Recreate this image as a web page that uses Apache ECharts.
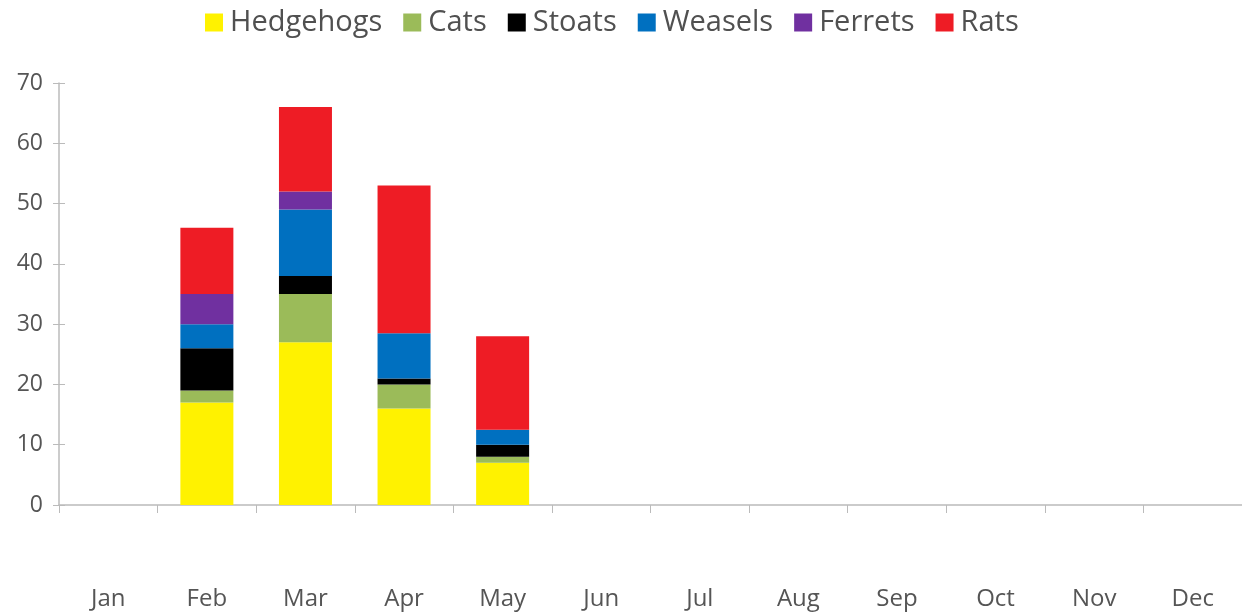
<!DOCTYPE html>
<html>
<head>
<meta charset="utf-8">
<script src="https://cdn.jsdelivr.net/npm/echarts@6/dist/echarts.min.js"></script>
<style>html,body{margin:0;padding:0;background:#fff}#c{width:1242px;height:613px}</style>
</head>
<body>
<div id="c"></div>
<script>
const months = ['Jan','Feb','Mar','Apr','May','Jun','Jul','Aug','Sep','Oct','Nov','Dec'];
const hedgehogs = [null, 17, 27, 16, 7, null, null, null, null, null, null, null];
const cats      = [null, 2, 8, 4, 1, null, null, null, null, null, null, null];
const stoats    = [null, 7, 3, 1, 2, null, null, null, null, null, null, null];
const weasels   = [null, 4, 11, 7.5, 2.5, null, null, null, null, null, null, null];
const ferrets   = [null, 5, 3, 0, 0, null, null, null, null, null, null, null];
const rats      = [null, 11, 14, 24.5, 15.5, null, null, null, null, null, null, null];
const yTicks = [0, 10, 20, 30, 40, 50, 60, 70];

const seriesDefs = [
  ['Hedgehogs', hedgehogs, '#FFF200'],
  ['Cats', cats, '#9BBB59'],
  ['Stoats', stoats, '#000000'],
  ['Weasels', weasels, '#0070C0'],
  ['Ferrets', ferrets, '#7030A0'],
  ['Rats', rats, '#EE1C25']
];
const FONT = 'Open Sans';
const chart = echarts.init(document.getElementById('c'), null, {renderer: 'canvas'});
const yBase = {
  type: 'value', min: yTicks[0], max: yTicks[yTicks.length-1], interval: 10,
  splitLine: {show: false}
};
chart.setOption({
  animation: false,
  textStyle: {fontFamily: FONT},
  legend: {
    top: 3, left: 200,
    itemWidth: 18, itemHeight: 18, itemGap: 21,
    icon: 'rect',
    textStyle: {fontFamily: FONT, fontSize: 29, color: '#505050', padding: [0,0,0,2]},
    data: seriesDefs.map(s => s[0])
  },
  grid: {left: 59, top: 83, bottom: 108, width: 1192},
  xAxis: {
    type: 'category', data: months,
    axisLine: {lineStyle: {color: '#BBBBBB', width: 1.5}},
    axisTick: {show: true, length: 8, lineStyle: {color: '#BBBBBB'}},
    axisLabel: {margin: 82, fontSize: 24, color: '#555555', fontFamily: FONT}
  },
  yAxis: [
    Object.assign({}, yBase, {
      axisLine: {show: true, lineStyle: {color: '#BBBBBB', width: 1.5}},
      axisTick: {show: true, length: 6, lineStyle: {color: '#BBBBBB'}},
      axisLabel: {margin: 16, fontSize: 23, color: '#555555', fontFamily: FONT}
    }),
    Object.assign({}, yBase, {
      position: 'left',
      axisLine: {show: false},
      axisTick: {show: true, inside: true, length: 6, lineStyle: {color: '#BBBBBB'}},
      axisLabel: {show: false}
    })
  ],
  series: seriesDefs.map(([name, data, color]) => ({
    name, type: 'bar', stack: 'total', data, barWidth: 53, yAxisIndex: 0,
    itemStyle: {color}
  }))
});
</script>
</body>
</html>
